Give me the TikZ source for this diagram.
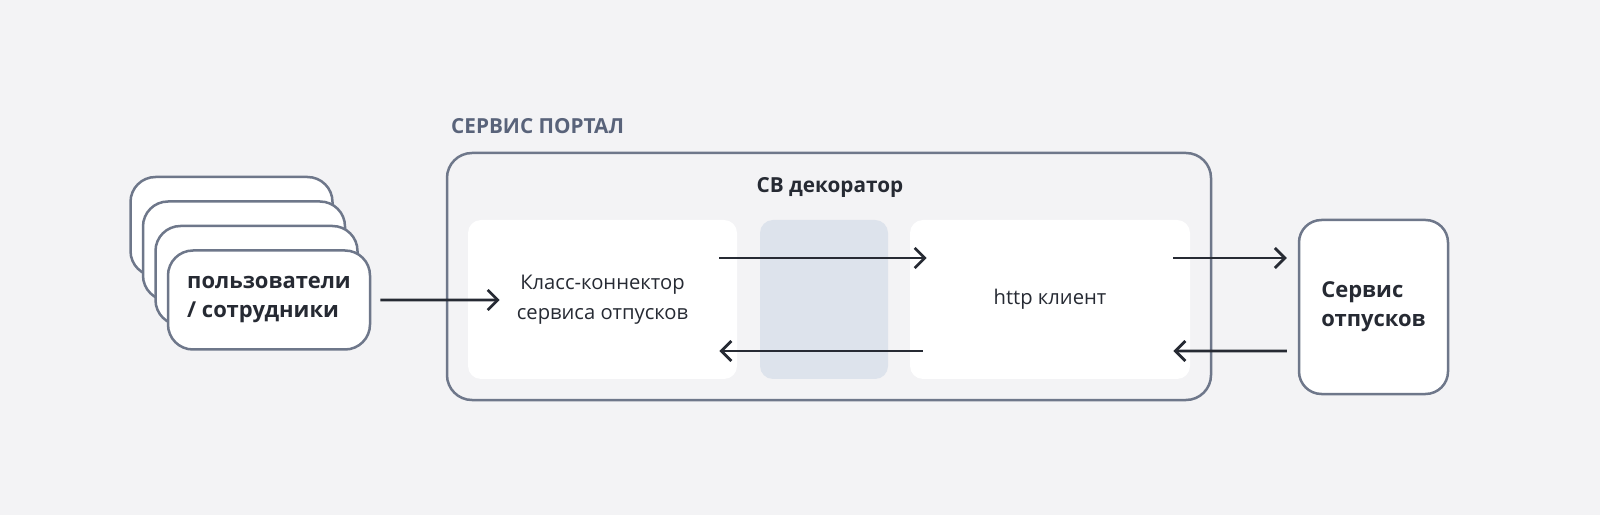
\documentclass[tikz,border=0pt]{standalone}
\usepackage{fontspec}
\setmainfont{Open Sans}
\usepackage{tikz}
\usetikzlibrary{calc, arrows.meta}

\definecolor{bgcol}{HTML}{F3F3F5}
\definecolor{edgecol}{HTML}{6E778A}
\definecolor{titlecol}{HTML}{59637A}
\definecolor{inkcol}{HTML}{262A33}
\definecolor{midcol}{HTML}{DDE3EC}

\begin{document}
\begin{tikzpicture}[x=0.2mm, y=-0.2mm,
		userbox/.style={draw=edgecol, line width=0.5mm, fill=white, rounded corners=5mm,
			minimum width=40.4mm, minimum height=19.8mm, align=left, text=inkcol,
			font=\fontsize{12.5}{16.5}\selectfont\bfseries},
		innerbox/.style={fill=white, rounded corners=2.6mm, minimum width=#1, minimum height=31.8mm,
			align=center, text=inkcol, font=\fontsize{11.5}{17}\selectfont},
		flow/.style={draw=inkcol, line width=0.55mm, -{Straight Barb[length=2mm, width=4mm]}}]
			
			\fill[bgcol] (0,0) rectangle (1600,515);
			\useasboundingbox (0,0) rectangle (1600,515);
			
			% portal frame
			\node[draw=edgecol, line width=0.5mm, fill=bgcol, rounded corners=5mm,
				minimum width=152.8mm, minimum height=49.4mm] (portal) at (829,276.5) {};
			\node[anchor=west, text=titlecol, font=\fontsize{11.8}{14}\selectfont\bfseries] (portaltitle) at (445,126) {СЕРВИС ПОРТАЛ};
			\node[text=inkcol, font=\fontsize{11.8}{14}\selectfont\bfseries] (decotitle) at (830,187) {СВ декоратор};
			
			\node[innerbox=53.8mm] (connector) at (602.5,299.5) {Класс-коннектор\\сервиса отпусков};
			\node[fill=midcol, rounded corners=2.6mm, minimum width=25.6mm, minimum height=31.8mm] (deco) at (824,299.5) {};
			\node[innerbox=56mm] (client) at (1050,299.5) {http клиент};
			
			% users stack
			\node[userbox] (users4) at (231.5,226.5) {};
			\node[userbox] (users3) at (244,251) {};
			\node[userbox] (users2) at (256.5,275.5) {};
			\node[userbox] (users) at (269,300) {пользователи\\/ сотрудники};
			
			\node[draw=edgecol, line width=0.5mm, fill=white, rounded corners=4.5mm,
				minimum width=29.8mm, minimum height=34.8mm, align=left, text=inkcol,
				font=\fontsize{12.5}{16.5}\selectfont\bfseries] (vacation) at (1373.5,307) {Сервис\\отпусков};
			
			\coordinate (a1) at ($(users.east)+(9,0)$);
			\coordinate (a2) at ($(connector.west)+(32,0.5)$);
			\coordinate (b1) at ($(connector.east)+(-18,-41.5)$);
			\coordinate (b2) at ($(client.west)+(17,-41.5)$);
			\coordinate (c1) at ($(client.west)+(13,51.5)$);
			\coordinate (c2) at ($(connector.east)+(-18,51.5)$);
			\coordinate (d1) at ($(client.east)+(-17,-41.5)$);
			\coordinate (d2) at ($(vacation.west)+(-11,-49)$);
			\coordinate (e1) at ($(vacation.west)+(-11,44)$);
			\coordinate (e2) at ($(client.east)+(-17,51.5)$);
			
			\begin{scope}[flow]
			\draw (a1) -- (a2);
			\draw (b1) -- (b2);
			\draw (c1) -- (c2);
			\draw (d1) -- (d2);
			\draw (e1) -- (e2);
			\end{scope}
		\end{tikzpicture}
\end{document}
